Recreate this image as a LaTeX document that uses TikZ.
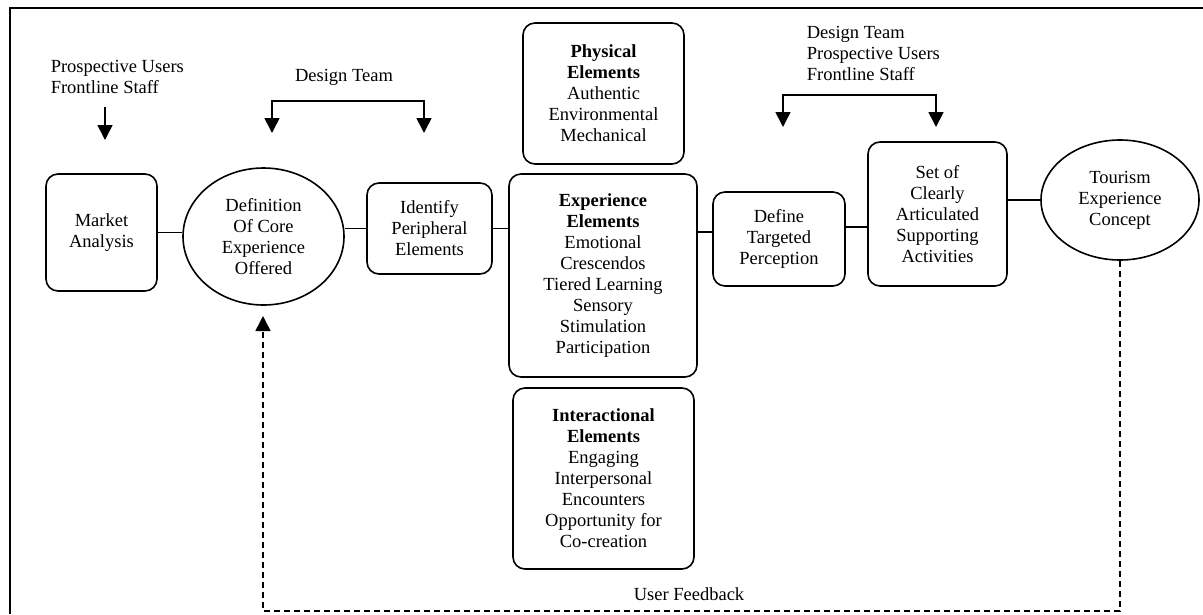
\documentclass[tikz,border=0pt]{standalone}
\usepackage{fontspec}
\setmainfont{Liberation Serif}
\usetikzlibrary{arrows.meta,shapes}
\tikzset{
	stage/.style={
		rectangle,
		draw,
		rounded corners=12pt,
		line width=1.6pt,
		align=center,
		inner sep=0pt
	},
	goal/.style={
		ellipse,
		draw,
		line width=1.6pt,
		align=center,
		inner sep=0pt
	},
	note/.style={
		align=left,
		inner sep=0pt
	},
	feedback/.style={
		dash pattern=on 6pt off 4pt,
		line width=1.5pt
	}
}

\begin{document}
\begin{tikzpicture}[x=1pt,y=-1pt,line width=1.6pt,>={Triangle[length=15pt,width=15pt]},font=\fontsize{18.5}{21}\selectfont]
		\useasboundingbox (0,0) rectangle (1203,614);
		\draw [line width=2pt] (1203,8) -- (10,8) -- (10,614);
		% main chain
		\node [stage,minimum width=111pt,minimum height=117pt] (market) at (101.5,232.5) {Market\\Analysis};
		\node [goal,minimum width=161pt,minimum height=137pt] (core) at (263.5,236.5) {Definition\\Of Core\\Experience\\Offered};
		\node [stage,minimum width=125pt,minimum height=91pt] (ident) at (429.5,228.5) {Identify\\Peripheral\\Elements};
		\node [stage,minimum width=161pt,minimum height=141pt] (phys) at (603.5,93.5) {\textbf{Physical}\\\textbf{Elements}\\Authentic\\Environmental\\Mechanical};
		\node [stage,minimum width=188pt,minimum height=203pt] (exper) at (603,275.5) {\textbf{Experience}\\\textbf{Elements}\\Emotional\\Crescendos\\Tiered Learning\\Sensory\\Stimulation\\Participation};
		\node [stage,minimum width=181pt,minimum height=181pt] (inter) at (603.5,478.5) {\textbf{Interactional}\\\textbf{Elements}\\Engaging\\Interpersonal\\Encounters\\Opportunity for\\Co-creation};
		\node [stage,minimum width=132pt,minimum height=94pt] (define) at (779,239) {Define\\Targeted\\Perception};
		\node [stage,minimum width=139pt,minimum height=144pt] (set) at (937.5,214) {Set of\\Clearly\\Articulated\\Supporting\\Activities};
		\node [goal,minimum width=158pt,minimum height=120pt] (tour) at (1120,200) {Tourism\\Experience\\Concept};
		\draw (market.east) -- (market.east -| core.west);
		\draw (ident.west) -- (ident.west -| core.east);
		\draw (ident.east) -- (ident.east -| exper.west);
		\draw (exper.east |- 0,232) -- (define.west |- 0,232);
		\draw (define.east |- 0,227) -- (set.west |- 0,227);
		\draw (tour.west -| set.east) -- (tour.west);
		% who takes part
		\node [note,anchor=west] (users) at (50,76.5) {Prospective Users\\Frontline Staff};
		\coordinate (usersA) at (105,107);
		\coordinate (usersB) at (105,140);
		\draw [->] (usersA) -- (usersB);
		\node [note] (team) at (344,77.5) {Design Team};
		\coordinate (teamA) at (272,133);
		\coordinate (teamB) at (424,133);
		\draw [<->] (teamA) -- ++(0,-32) -| (teamB);
		\node [note,anchor=west] (all) at (806,53) {Design Team\\Prospective Users\\Frontline Staff};
		\coordinate (allA) at (783,127);
		\coordinate (allB) at (936,127);
		\draw [<->] (allA) -- ++(0,-32) -| (allB);
		% feedback loop
		\coordinate (fbend) at (263,316);
		\draw [feedback,->] (tour.south) -- ++(0,350) -| (fbend);
		\node (fblabel) at (689,594) {User Feedback};
\end{tikzpicture}
\end{document}
